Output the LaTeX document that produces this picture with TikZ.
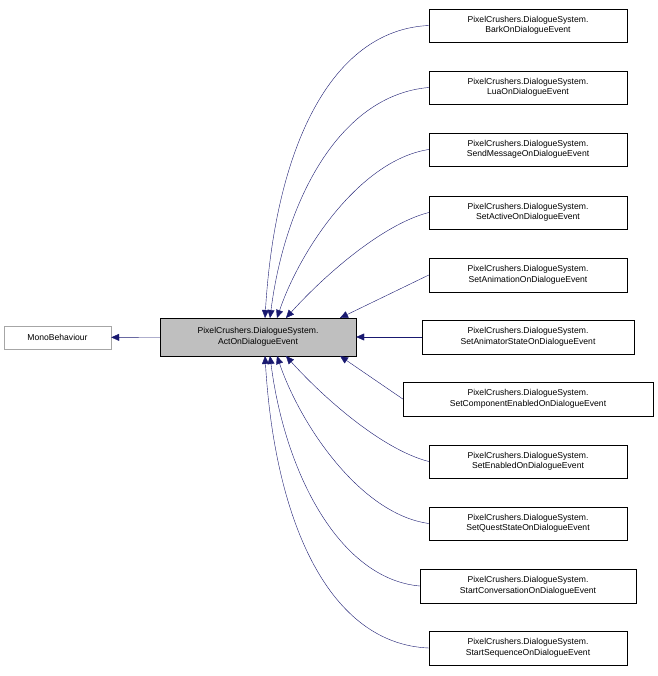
\documentclass[tikz,border=0pt]{standalone}
\usepackage{fontspec}
\setmainfont{Liberation Sans}
\usetikzlibrary{arrows.meta}
\definecolor{edge}{RGB}{25,25,112}
\begin{document}
\begin{tikzpicture}[x=1pt,y=-1pt,
  box/.style={draw=black,fill=white,inner sep=0pt,align=center,font=\fontsize{8.6}{10.5}\selectfont},
  arr/.style={draw=edge,-{Triangle[length=8pt,width=7pt]}}]
\useasboundingbox (0,0) rectangle (657,676);
\newcommand{\bx}[6]{\node[box,minimum width=#4-#3,minimum height=#6-#5] (#1) at ({(#3+#4)/2},{(#5+#6)/2}) {#2};}
\node[draw=gray!70,fill=white,minimum width=107,minimum height=23,inner sep=0pt,font=\fontsize{8.6}{10.5}\selectfont] (mono) at (57.5,337.5) {MonoBehaviour};
\node[draw=black,fill=gray!50,minimum width=196,minimum height=38,inner sep=0pt,align=center,font=\fontsize{8.6}{10.5}\selectfont] (act) at (258,337) {PixelCrushers.DialogueSystem.\\ActOnDialogueEvent};
\bx{n1}{PixelCrushers.DialogueSystem.\\BarkOnDialogueEvent}{429}{627}{9}{42}
\bx{n2}{PixelCrushers.DialogueSystem.\\LuaOnDialogueEvent}{429}{627}{71}{104}
\bx{n3}{PixelCrushers.DialogueSystem.\\SendMessageOnDialogueEvent}{429}{627}{133}{166}
\bx{n4}{PixelCrushers.DialogueSystem.\\SetActiveOnDialogueEvent}{429}{627}{196}{229}
\bx{n5}{PixelCrushers.DialogueSystem.\\SetAnimationOnDialogueEvent}{429}{627}{258}{292}
\bx{n6}{PixelCrushers.DialogueSystem.\\SetAnimatorStateOnDialogueEvent}{422}{634}{320}{354}
\bx{n7}{PixelCrushers.DialogueSystem.\\SetComponentEnabledOnDialogueEvent}{403}{653}{382}{416}
\bx{n8}{PixelCrushers.DialogueSystem.\\SetEnabledOnDialogueEvent}{429}{627}{445}{478}
\bx{n9}{PixelCrushers.DialogueSystem.\\SetQuestStateOnDialogueEvent}{429}{627}{507}{540}
\bx{n10}{PixelCrushers.DialogueSystem.\\StartConversationOnDialogueEvent}{420}{636}{569}{603}
\bx{n11}{PixelCrushers.DialogueSystem.\\StartSequenceOnDialogueEvent}{429}{627}{631}{665}
\coordinate (t1) at (265,318); \coordinate (t2) at (270,318); \coordinate (t3) at (277,318);
\coordinate (t4) at (286,318); \coordinate (t5) at (340,318);
\coordinate (b7) at (340,356); \coordinate (b8) at (286,356); \coordinate (b9) at (277,356);
\coordinate (b10) at (270,356); \coordinate (b11) at (265,356);
\draw[arr] (act) -- (mono);
\draw[arr] (n1.west) .. controls (330,30) and (275,150) .. (t1);
\draw[arr] (n2.west) .. controls (340,95) and (285,200) .. (t2);
\draw[arr] (n3.west) .. controls (360,160) and (300,250) .. (t3);
\draw[arr] (n4.west) .. controls (380,225) and (320,280) .. (t4);
\draw[arr] (n5.west) -- (t5);
\draw[arr] (n6.west) -- (act.east);
\draw[arr] (n7.west) -- (b7);
\draw[arr] (n8.west) .. controls (380,449) and (320,394) .. (b8);
\draw[arr] (n9.west) .. controls (360,514) and (300,424) .. (b9);
\draw[arr] (n10.west) .. controls (340,579) and (285,474) .. (b10);
\draw[arr] (n11.west) .. controls (330,644) and (275,524) .. (b11);
\end{tikzpicture}
\end{document}
